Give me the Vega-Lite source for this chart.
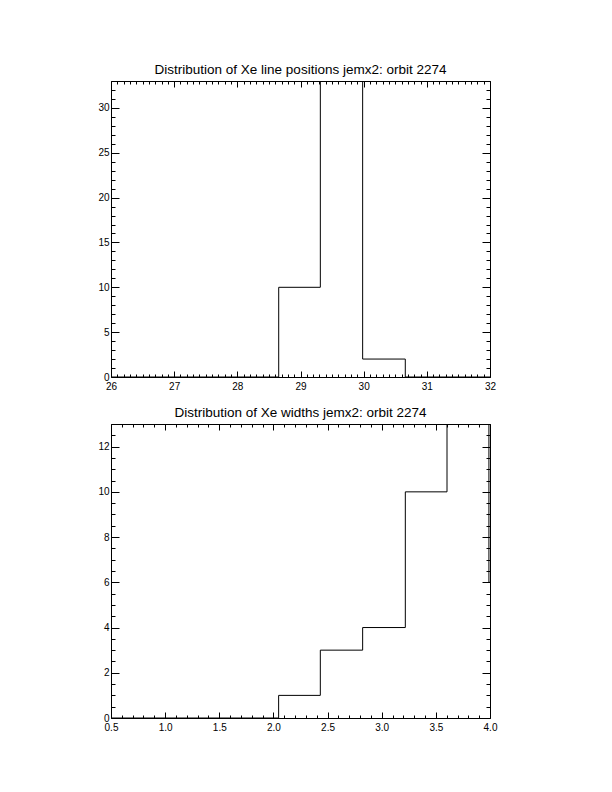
{
  "$schema": "https://vega.github.io/schema/vega-lite/v6.json",
  "autosize": {"type": "pad"},
  "padding": {"left": 97, "top": 63, "right": 100, "bottom": 40},
  "background": "white",
  "spacing": 15,
  "config": {
    "view": {"stroke": null},
    "font": "Liberation Sans",
    "axis": {
      "grid": false,
      "domainColor": "black",
      "domainWidth": 1,
      "tickColor": "black",
      "tickWidth": 1,
      "labelColor": "black",
      "labelFont": "Liberation Sans",
      "labelFontSize": 10,
      "title": null
    },
    "title": {"font": "Liberation Sans", "fontSize": 13.5, "fontWeight": "normal", "color": "black", "offset": 4}
  },
  "vconcat": [
    {
      "width": 379,
      "height": 296,
      "title": "Distribution of Xe line positions jemx2: orbit 2274",
      "data": {"values": [
        {"x": 26.0, "y": 0},
        {"x": 28.655, "y": 10},
        {"x": 29.314, "y": 45},
        {"x": 29.984, "y": 2},
        {"x": 30.659, "y": 0},
        {"x": 32.0, "y": 0}
      ]},
      "layer": [
        {
          "mark": {"type": "line", "interpolate": "step-after", "clip": true, "color": "black", "strokeWidth": 1},
          "encoding": {
            "x": {"field": "x", "type": "quantitative", "scale": {"domain": [26, 32], "nice": false, "zero": false},
              "axis": {"orient": "bottom", "values": [26, 27, 28, 29, 30, 31, 32], "format": "d", "tickSize": -6, "labelPadding": 10, "labelFlush": false}},
            "y": {"field": "y", "type": "quantitative", "scale": {"domain": [0, 33], "nice": false},
              "axis": {"orient": "left", "values": [0, 5, 10, 15, 20, 25, 30], "format": "d", "tickSize": -8, "labelPadding": 10, "labelFlush": false}}
          }
        },
        {
          "mark": {"type": "line", "strokeOpacity": 0, "clip": true},
          "encoding": {
            "x": {"field": "x", "type": "quantitative", "scale": {"domain": [26, 32], "nice": false, "zero": false},
              "axis": {"orient": "top", "values": [26, 27, 28, 29, 30, 31, 32], "labels": false, "tickSize": -6}},
            "y": {"field": "y", "type": "quantitative", "scale": {"domain": [0, 33], "nice": false},
              "axis": {"orient": "right", "values": [0, 5, 10, 15, 20, 25, 30], "labels": false, "tickSize": -8}}
          }
        },
        {
          "mark": {"type": "line", "strokeOpacity": 0, "clip": true},
          "encoding": {
            "x": {"field": "x", "type": "quantitative", "scale": {"domain": [26, 32], "nice": false, "zero": false},
              "axis": {"orient": "bottom", "domain": false, "labels": false, "tickSize": -3,
                "values": [26.1,26.2,26.3,26.4,26.5,26.6,26.7,26.8,26.9,27.1,27.2,27.3,27.4,27.5,27.6,27.7,27.8,27.9,28.1,28.2,28.3,28.4,28.5,28.6,28.7,28.8,28.9,29.1,29.2,29.3,29.4,29.5,29.6,29.7,29.8,29.9,30.1,30.2,30.3,30.4,30.5,30.6,30.7,30.8,30.9,31.1,31.2,31.3,31.4,31.5,31.6,31.7,31.8,31.9]}},
            "y": {"field": "y", "type": "quantitative", "scale": {"domain": [0, 33], "nice": false},
              "axis": {"orient": "left", "domain": false, "labels": false, "tickSize": -4,
                "values": [1,2,3,4,6,7,8,9,11,12,13,14,16,17,18,19,21,22,23,24,26,27,28,29,31,32,33]}}
          }
        },
        {
          "mark": {"type": "line", "strokeOpacity": 0, "clip": true},
          "encoding": {
            "x": {"field": "x", "type": "quantitative", "scale": {"domain": [26, 32], "nice": false, "zero": false},
              "axis": {"orient": "top", "domain": false, "labels": false, "tickSize": -3,
                "values": [26.1,26.2,26.3,26.4,26.5,26.6,26.7,26.8,26.9,27.1,27.2,27.3,27.4,27.5,27.6,27.7,27.8,27.9,28.1,28.2,28.3,28.4,28.5,28.6,28.7,28.8,28.9,29.1,29.2,29.3,29.4,29.5,29.6,29.7,29.8,29.9,30.1,30.2,30.3,30.4,30.5,30.6,30.7,30.8,30.9,31.1,31.2,31.3,31.4,31.5,31.6,31.7,31.8,31.9]}},
            "y": {"field": "y", "type": "quantitative", "scale": {"domain": [0, 33], "nice": false},
              "axis": {"orient": "right", "domain": false, "labels": false, "tickSize": -4,
                "values": [1,2,3,4,6,7,8,9,11,12,13,14,16,17,18,19,21,22,23,24,26,27,28,29,31,32,33]}}
          }
        }
      ],
      "resolve": {"axis": {"x": "independent", "y": "independent"}}
    },
    {
      "width": 379,
      "height": 294,
      "title": "Distribution of Xe widths jemx2: orbit 2274",
      "data": {"values": [
        {"x": 0.5, "y": 0},
        {"x": 2.048, "y": 1},
        {"x": 2.433, "y": 3},
        {"x": 2.824, "y": 4},
        {"x": 3.218, "y": 10},
        {"x": 3.603, "y": 16},
        {"x": 3.99, "y": 6},
        {"x": 4.2, "y": 6}
      ]},
      "layer": [
        {
          "mark": {"type": "line", "interpolate": "step-after", "clip": true, "color": "black", "strokeWidth": 1},
          "encoding": {
            "x": {"field": "x", "type": "quantitative", "scale": {"domain": [0.5, 4.0], "nice": false, "zero": false},
              "axis": {"orient": "bottom", "values": [0.5, 1.0, 1.5, 2.0, 2.5, 3.0, 3.5, 4.0], "format": ".1f", "tickSize": -6, "labelPadding": 10, "labelFlush": false}},
            "y": {"field": "y", "type": "quantitative", "scale": {"domain": [0, 13], "nice": false},
              "axis": {"orient": "left", "values": [0, 2, 4, 6, 8, 10, 12], "format": "d", "tickSize": -8, "labelPadding": 10, "labelFlush": false}}
          }
        },
        {
          "mark": {"type": "line", "strokeOpacity": 0, "clip": true},
          "encoding": {
            "x": {"field": "x", "type": "quantitative", "scale": {"domain": [0.5, 4.0], "nice": false, "zero": false},
              "axis": {"orient": "top", "values": [0.5, 1.0, 1.5, 2.0, 2.5, 3.0, 3.5, 4.0], "labels": false, "tickSize": -6}},
            "y": {"field": "y", "type": "quantitative", "scale": {"domain": [0, 13], "nice": false},
              "axis": {"orient": "right", "values": [0, 2, 4, 6, 8, 10, 12], "labels": false, "tickSize": -8}}
          }
        },
        {
          "mark": {"type": "line", "strokeOpacity": 0, "clip": true},
          "encoding": {
            "x": {"field": "x", "type": "quantitative", "scale": {"domain": [0.5, 4.0], "nice": false, "zero": false},
              "axis": {"orient": "bottom", "domain": false, "labels": false, "tickSize": -3,
                "values": [0.6,0.7,0.8,0.9,1.1,1.2,1.3,1.4,1.6,1.7,1.8,1.9,2.1,2.2,2.3,2.4,2.6,2.7,2.8,2.9,3.1,3.2,3.3,3.4,3.6,3.7,3.8,3.9]}},
            "y": {"field": "y", "type": "quantitative", "scale": {"domain": [0, 13], "nice": false},
              "axis": {"orient": "left", "domain": false, "labels": false, "tickSize": -4,
                "values": [0.5,1,1.5,2.5,3,3.5,4.5,5,5.5,6.5,7,7.5,8.5,9,9.5,10.5,11,11.5,12.5,13]}}
          }
        },
        {
          "mark": {"type": "line", "strokeOpacity": 0, "clip": true},
          "encoding": {
            "x": {"field": "x", "type": "quantitative", "scale": {"domain": [0.5, 4.0], "nice": false, "zero": false},
              "axis": {"orient": "top", "domain": false, "labels": false, "tickSize": -3,
                "values": [0.6,0.7,0.8,0.9,1.1,1.2,1.3,1.4,1.6,1.7,1.8,1.9,2.1,2.2,2.3,2.4,2.6,2.7,2.8,2.9,3.1,3.2,3.3,3.4,3.6,3.7,3.8,3.9]}},
            "y": {"field": "y", "type": "quantitative", "scale": {"domain": [0, 13], "nice": false},
              "axis": {"orient": "right", "domain": false, "labels": false, "tickSize": -4,
                "values": [0.5,1,1.5,2.5,3,3.5,4.5,5,5.5,6.5,7,7.5,8.5,9,9.5,10.5,11,11.5,12.5,13]}}
          }
        }
      ],
      "resolve": {"axis": {"x": "independent", "y": "independent"}}
    }
  ]
}
